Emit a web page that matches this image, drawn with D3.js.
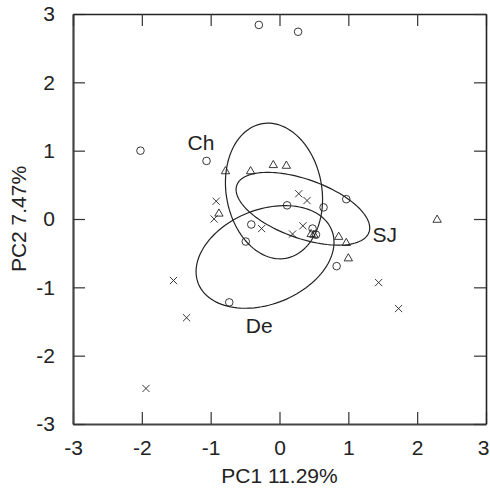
<!DOCTYPE html>
<meta charset="utf-8">
<html lang="en">
<head>
<title>PCA scores</title>
<style>
  body { margin: 0; background: #fff; }
  text { font-family: "Liberation Sans", Arial, sans-serif; fill: #222; }
  .mark { fill: none; stroke: #222; stroke-width: 0.9; }
  .ell { fill: none; stroke: #222; stroke-width: 1.2; }
</style>
</head>
<body>
<script src="https://d3js.org/d3.v7.min.js"></script>
<script>

// scores, one array per marker type
var circlePts = [[-0.30, 2.84], [0.27, 2.74], [-2.02, 1.00], [-1.06, 0.85],
                 [0.11, 0.20], [0.64, 0.17], [0.97, 0.29], [-0.41, -0.08],
                 [-0.49, -0.33], [0.48, -0.14], [0.53, -0.23], [0.83, -0.69],
                 [-0.73, -1.22]];
var trianglePts = [[-0.785, 0.69], [-0.42, 0.69], [-0.09, 0.78], [0.10, 0.77],
                   [-0.88, 0.07], [0.46, -0.23], [0.50, -0.24], [0.86, -0.27],
                   [0.97, -0.36], [1.00, -0.585], [2.29, -0.02]];
var crossPts = [[-0.92, 0.26], [-0.95, 0.0], [0.28, 0.37], [0.40, 0.27],
                [-0.26, -0.14], [0.34, -0.10], [0.19, -0.22], [-1.54, -0.90],
                [-1.35, -1.445], [-1.94, -2.48], [1.44, -0.93], [1.73, -1.31]];

// confidence ellipses: centre, semi-axes (data units), rotation in degrees
var groups = ["Ch", "SJ", "De"];
var ellCentre = [[-0.08, 0.41], [0.34, 0.15], [-0.21, -0.555]];
var ellAxes = [[1.0, 0.695], [1.02, 0.43], [1.045, 0.69]];
var ellAngle = [99.7, -19.8, 22.2];
var labelPos = [[-1.14, 1.01], [1.35, -0.33], [-0.49, -1.67]];

var ticks = [-3, -2, -1, 0, 1, 2, 3];
var xTitle = "PC1 11.29%", yTitle = "PC2 7.47%";

var W = 490, H = 489;
var m = {left: 73, top: 14, right: 4, bottom: 65};

var svg = d3.select("body").append("svg")
    .attr("width", W)
    .attr("height", H);

var x = d3.scaleLinear().domain([-3, 3]).range([m.left, W - m.right]);
var y = d3.scaleLinear().domain([-3, 3]).range([H - m.bottom, m.top]);

var fmt = function(d) { return String(d); };  // plain hyphen minus

// axes, ticks pointing into the box
var gx = svg.append("g")
    .attr("transform", "translate(0," + y(-3) + ")")
    .call(d3.axisBottom(x).tickValues(ticks).tickFormat(fmt).tickSize(-12).tickSizeOuter(0).tickPadding(16));
var gy = svg.append("g")
    .attr("transform", "translate(" + x(-3) + ",0)")
    .call(d3.axisLeft(y).tickValues(ticks).tickFormat(fmt).tickSize(-12).tickSizeOuter(0).tickPadding(18));
var gt = svg.append("g")
    .attr("transform", "translate(0," + y(3) + ")")
    .call(d3.axisTop(x).tickValues(ticks).tickSize(-12).tickSizeOuter(0).tickFormat(""));
var gr = svg.append("g")
    .attr("transform", "translate(" + x(3) + ",0)")
    .call(d3.axisRight(y).tickValues(ticks).tickSize(-12).tickSizeOuter(0).tickFormat(""));

[gx, gy].forEach(function(g) {
  g.select(".domain").attr("stroke", "#444").attr("stroke-width", 2.2);
  g.selectAll(".tick line").attr("stroke", "#333").attr("stroke-width", 1.2);
  g.selectAll(".tick text").style("font-size", "21px").attr("fill", "#222");
});
[gt, gr].forEach(function(g) {
  g.select(".domain").attr("stroke", "#222").attr("stroke-width", 1.6);
  g.selectAll(".tick line").attr("stroke", "#333").attr("stroke-width", 1.2);
});

// last x label sits at the page edge; pull it in a little
gx.selectAll(".tick text").filter(function(d) { return d == 3; }).attr("dx", -3);

svg.append("text")
    .attr("x", x(0))
    .attr("y", 483)
    .attr("text-anchor", "middle")
    .style("font-size", "21px")
    .text(xTitle);

svg.append("text")
    .attr("transform", "translate(26," + y(0) + ") rotate(-90)")
    .attr("text-anchor", "middle")
    .style("font-size", "21px")
    .text(yTitle);

// ellipses, sampled in data space then mapped through the scales
var line = d3.line()
    .x(function(d) { return x(d[0]); })
    .y(function(d) { return y(d[1]); })
    .curve(d3.curveLinearClosed);

groups.forEach(function(gname, i) {
  var c = ellCentre[i], a = ellAxes[i][0], b = ellAxes[i][1];
  var th = ellAngle[i] * Math.PI / 180;
  var pts = d3.range(0, 360, 3).map(function(deg) {
    var t = deg * Math.PI / 180;
    var u = a * Math.cos(t), v = b * Math.sin(t);
    return [c[0] + u * Math.cos(th) - v * Math.sin(th),
            c[1] + u * Math.sin(th) + v * Math.cos(th)];
  });
  svg.append("path").attr("class", "ell").attr("d", line(pts));
});

svg.selectAll(".glabel")
    .data(groups)
  .enter().append("text")
    .attr("class", "glabel")
    .attr("x", function(d, i) { return x(labelPos[i][0]); })
    .attr("y", function(d, i) { return y(labelPos[i][1]); })
    .attr("text-anchor", function(d, i) { return i == 0 ? "middle" : "start"; })
    .style("font-size", "21px")
    .text(function(d) { return d; });

// markers
svg.selectAll(".circ")
    .data(circlePts)
  .enter().append("circle")
    .attr("class", "mark")
    .attr("cx", function(d) { return x(d[0]); })
    .attr("cy", function(d) { return y(d[1]); })
    .attr("r", 3.8);

var tri = d3.symbol().type(d3.symbolTriangle).size(30);
svg.selectAll(".tri")
    .data(trianglePts)
  .enter().append("path")
    .attr("class", "mark")
    .attr("d", tri)
    .attr("transform", function(d) { return "translate(" + x(d[0]) + "," + (y(d[1]) - 0.5) + ")"; });

var s = 3.6;
svg.selectAll(".cross")
    .data(crossPts)
  .enter().append("path")
    .attr("class", "mark")
    .attr("d", "M" + (-s) + "," + (-s) + "L" + s + "," + s + "M" + (-s) + "," + s + "L" + s + "," + (-s))
    .attr("transform", function(d) { return "translate(" + x(d[0]) + "," + y(d[1]) + ")"; });

</script>
</body>
</html>
